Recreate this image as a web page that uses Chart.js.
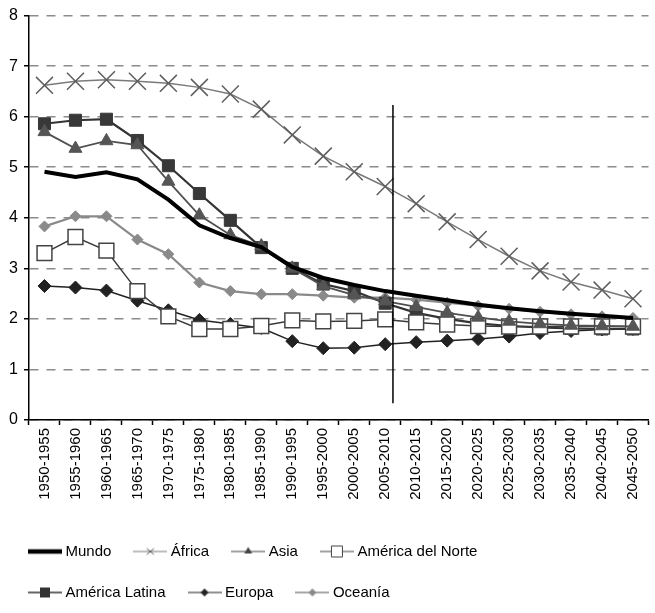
<!DOCTYPE html>
<html>
<head>
<meta charset="utf-8">
<script src="https://cdn.jsdelivr.net/npm/chart.js@4.4.0/dist/chart.umd.min.js"></script>
<style>
html, body { margin: 0; padding: 0; overflow: hidden; background: #fff; }
#wrap { width: 662px; height: 613px; }
</style>
</head>
<body>
<div id="wrap"><canvas id="chart"></canvas></div>
<script>
// periodos quinquenales
const periods = ['1950-1955', '1955-1960', '1960-1965', '1965-1970', '1970-1975', '1975-1980',
    '1980-1985', '1985-1990', '1990-1995', '1995-2000', '2000-2005', '2005-2010', '2010-2015',
    '2015-2020', '2020-2025', '2025-2030', '2030-2035', '2035-2040', '2040-2045', '2045-2050'];

const mundo   = [4.91, 4.81, 4.90, 4.76, 4.36, 3.85, 3.60, 3.42, 3.03, 2.81, 2.67, 2.55, 2.46, 2.37, 2.28, 2.21, 2.15, 2.10, 2.06, 2.02];
const africa  = [6.62, 6.70, 6.73, 6.70, 6.66, 6.58, 6.45, 6.15, 5.64, 5.22, 4.91, 4.62, 4.28, 3.92, 3.57, 3.24, 2.95, 2.73, 2.57, 2.40];
const asia    = [5.70, 5.37, 5.52, 5.44, 4.72, 4.05, 3.66, 3.44, 3.00, 2.65, 2.47, 2.35, 2.24, 2.12, 2.03, 1.95, 1.90, 1.87, 1.86, 1.85];
const norte   = [3.30, 3.62, 3.35, 2.55, 2.05, 1.80, 1.80, 1.86, 1.97, 1.95, 1.96, 1.99, 1.93, 1.89, 1.86, 1.85, 1.85, 1.85, 1.85, 1.85];
const latina  = [5.86, 5.93, 5.95, 5.53, 5.03, 4.48, 3.95, 3.41, 3.00, 2.69, 2.55, 2.31, 2.12, 2.00, 1.91, 1.86, 1.83, 1.81, 1.80, 1.80];
const europa  = [2.65, 2.62, 2.56, 2.36, 2.17, 1.98, 1.90, 1.82, 1.56, 1.42, 1.43, 1.50, 1.54, 1.57, 1.60, 1.65, 1.72, 1.76, 1.79, 1.80];
const oceania = [3.83, 4.03, 4.03, 3.57, 3.28, 2.72, 2.55, 2.49, 2.49, 2.46, 2.42, 2.42, 2.38, 2.32, 2.26, 2.20, 2.14, 2.09, 2.05, 2.02];

// linea vertical (periodo actual)
const markLinePeriod = '2005-2010';
const markLineShift = 0.25;
const markLineRange = [0.33, 6.23];

const fontFamily = '"Liberation Sans", Arial, sans-serif';

function legendIcon(kind, lineColor, lineWidth, markColor) {
    const c = document.createElement('canvas');
    c.width = 34;
    c.height = 16;
    const ctx = c.getContext('2d');
    ctx.strokeStyle = lineColor;
    ctx.lineWidth = lineWidth;
    ctx.beginPath();
    ctx.moveTo(0, 8);
    ctx.lineTo(34, 8);
    ctx.stroke();
    ctx.fillStyle = markColor;
    ctx.strokeStyle = markColor;
    ctx.lineWidth = 1;
    ctx.beginPath();
    if (kind === 'cross') {
        ctx.moveTo(13.5, 5); ctx.lineTo(20.5, 11);
        ctx.moveTo(20.5, 5); ctx.lineTo(13.5, 11);
        ctx.stroke();
    } else if (kind === 'triangle') {
        ctx.moveTo(17, 3.5); ctx.lineTo(21, 10); ctx.lineTo(13, 10); ctx.closePath();
        ctx.fill();
    } else if (kind === 'openSquare') {
        ctx.fillStyle = '#fff';
        ctx.rect(11.5, 2.5, 11, 11);
        ctx.fill();
        ctx.stroke();
    } else if (kind === 'square') {
        ctx.rect(12, 3, 10, 10);
        ctx.fill();
    } else if (kind === 'diamond') {
        ctx.moveTo(17, 4); ctx.lineTo(21, 8); ctx.lineTo(17, 12); ctx.lineTo(13, 8); ctx.closePath();
        ctx.fill();
    }
    return c;
}

const legendIcons = [
    legendIcon('none', '#000', 4.5, '#000'),
    legendIcon('cross', '#7a7a7a', 1, '#555'),
    legendIcon('triangle', '#444', 1.2, '#444'),
    legendIcon('openSquare', '#444', 1.2, '#444'),
    legendIcon('square', '#333', 1.5, '#333'),
    legendIcon('diamond', '#222', 1.2, '#222'),
    legendIcon('diamond', '#8a8a8a', 1.5, '#8a8a8a')
];

const markLinePlugin = {
    id: 'markLine',
    afterDatasetsDraw(chart) {
        const x = chart.scales.x;
        const y = chart.scales.y;
        const idx = periods.indexOf(markLinePeriod);
        const px = x.getPixelForValue(idx) + markLineShift * (x.getPixelForValue(idx + 1) - x.getPixelForValue(idx));
        const ctx = chart.ctx;
        ctx.save();
        ctx.strokeStyle = '#000';
        ctx.lineWidth = 1.5;
        ctx.beginPath();
        ctx.moveTo(px, y.getPixelForValue(markLineRange[0]));
        ctx.lineTo(px, y.getPixelForValue(markLineRange[1]));
        ctx.stroke();
        ctx.restore();
    }
};

const chart = new Chart(document.getElementById('chart'), {
    type: 'line',
    data: {
        labels: periods,
        datasets: [
            { label: 'Mundo', data: mundo, borderColor: '#000', borderWidth: 4, pointRadius: 0 },
            { label: 'África', data: africa, borderColor: '#7a7a7a', borderWidth: 1.5,
              pointStyle: 'crossRot', pointRadius: 12, pointBorderColor: '#5e5e5e', pointBorderWidth: 1.5 },
            { label: 'Asia', data: asia, borderColor: '#505050', borderWidth: 1.8,
              pointStyle: 'triangle', pointRadius: 7.5, pointBackgroundColor: '#555', pointBorderColor: '#555', pointBorderWidth: 1 },
            { label: 'América del Norte', data: norte, borderColor: '#3a3a3a', borderWidth: 1.5,
              pointStyle: 'rect', pointRadius: 10.5, pointBackgroundColor: '#fff', pointBorderColor: '#444', pointBorderWidth: 1.5 },
            { label: 'América Latina', data: latina, borderColor: '#333', borderWidth: 2.2,
              pointStyle: 'rect', pointRadius: 8.5, pointBackgroundColor: '#383838', pointBorderColor: '#383838', pointBorderWidth: 1 },
            { label: 'Europa', data: europa, borderColor: '#222', borderWidth: 1.5,
              pointStyle: 'rectRot', pointRadius: 6.5, pointBackgroundColor: '#222', pointBorderColor: '#222', pointBorderWidth: 1 },
            { label: 'Oceanía', data: oceania, borderColor: '#8a8a8a', borderWidth: 2.2,
              pointStyle: 'rectRot', pointRadius: 5.5, pointBackgroundColor: '#8a8a8a', pointBorderColor: '#8a8a8a', pointBorderWidth: 1 }
        ]
    },
    options: {
        responsive: true,
        maintainAspectRatio: false,
        animation: false,
        layout: { padding: { left: 6, right: 0, top: 13, bottom: 3 } },
        elements: { line: { tension: 0 } },
        scales: {
            x: {
                offset: true,
                grid: { offset: true, drawOnChartArea: false, drawTicks: true, tickLength: 5, tickColor: '#000', tickWidth: 1.5 },
                border: { color: '#000', width: 1.5 },
                ticks: { minRotation: 90, maxRotation: 90, autoSkip: false, padding: 3, color: '#000',
                         font: { family: fontFamily, size: 15 } },
                afterFit(scale) { scale.height = 98; }
            },
            y: {
                min: 0,
                max: 8,
                ticks: { stepSize: 1, color: '#000', padding: 6, font: { family: fontFamily, size: 16 } },
                grid: { color: '#8c8c8c', lineWidth: 1.5, tickLength: 5, tickColor: '#000', tickWidth: 1.5, tickBorderDash: [] },
                border: { color: '#000', width: 1.5, dash: [9, 8] },
                afterFit(scale) { scale.width = 23; }
            }
        },
        plugins: {
            tooltip: { enabled: false },
            legend: {
                position: 'bottom',
                align: 'start',
                labels: {
                    usePointStyle: true,
                    pointStyleWidth: 26,
                    padding: 26,
                    color: '#000',
                    font: { family: fontFamily, size: 15 },
                    generateLabels(chart) {
                        const items = Chart.defaults.plugins.legend.labels.generateLabels(chart);
                        items.forEach((item, i) => { item.pointStyle = legendIcons[i]; });
                        return items;
                    }
                }
            }
        }
    },
    plugins: [markLinePlugin]
});
</script>
</body>
</html>
